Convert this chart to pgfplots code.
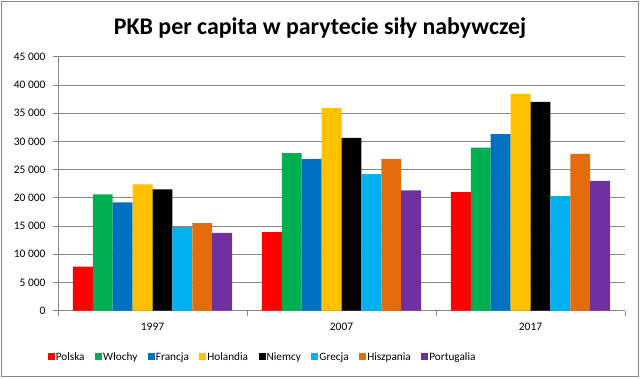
\documentclass[border=0pt]{standalone}
\usepackage{pgfplots}
\pgfplotsset{compat=1.18}
\usepackage{fontspec}
\setmainfont{Carlito}
\definecolor{cPolska}{HTML}{FF0000}
\definecolor{cWlochy}{HTML}{00B050}
\definecolor{cFrancja}{HTML}{0070C0}
\definecolor{cHolandia}{HTML}{FFC000}
\definecolor{cNiemcy}{HTML}{000000}
\definecolor{cGrecja}{HTML}{00B0F0}
\definecolor{cHiszpania}{HTML}{E46C0A}
\definecolor{cPortugalia}{HTML}{7030A0}
\definecolor{gridgray}{HTML}{868686}
\begin{document}
\begin{tikzpicture}[x=1bp,y=1bp]
\useasboundingbox (0,0) rectangle (640,378);
\draw[gridgray, line width=1.2bp] (1.5,1.5) rectangle (638.5,376.5);
\node[font=\fontsize{24}{28}\selectfont\bfseries, anchor=base] at (320,343.7) {PKB per capita w parytecie siły nabywczej};
\begin{axis}[
  at={(58bp,67.3bp)}, anchor=south west,
  scale only axis, width=567bp, height=254bp,
  xmin=-0.5, xmax=2.5, ymin=0, ymax=45000,
  ybar=0pt, bar width=0.1053,
  axis lines=left, axis line style={-, gridgray, line width=0.8bp},
  xtick={0,1,2}, xticklabels={1997,2007,2017},
  major x tick style={draw=none},
  minor xtick={-0.5,0.5,1.5,2.5},
  minor x tick style={gridgray, line width=0.8bp},
  minor tick length=5bp,
  ytick={0,5000,...,45000},
  major y tick style={gridgray, line width=0.8bp},
  major tick length=5bp,
  tick align=outside,
  ymajorgrids, grid style={gridgray, line width=0.8bp},
  scaled y ticks=false,
  /pgf/number format/.cd, 1000 sep={\ }, assume math mode=true, /pgfplots/.cd,
  tick label style={font=\fontsize{11.5}{13}\selectfont},
  yticklabel style={xshift=-4bp},
  xticklabel style={yshift=-4bp},
  legend columns=8,
  legend style={at={(0.36,-0.182)}, anchor=center, draw=none,
    font=\fontsize{11.3}{13}\selectfont,
    /tikz/every even column/.append style={column sep=9.5bp},
    nodes={inner sep=1bp}},
  legend image code/.code={\fill[#1] (0bp,-3.5bp) rectangle (7bp,3.5bp);},
]
\addplot[fill=cPolska, draw=none] coordinates {(0,7800) (1,13900) (2,21000)};
\addplot[fill=cWlochy, draw=none] coordinates {(0,20600) (1,27900) (2,28900)};
\addplot[fill=cFrancja, draw=none] coordinates {(0,19200) (1,26900) (2,31300)};
\addplot[fill=cHolandia, draw=none] coordinates {(0,22400) (1,35900) (2,38400)};
\addplot[fill=cNiemcy, draw=none] coordinates {(0,21500) (1,30600) (2,37000)};
\addplot[fill=cGrecja, draw=none] coordinates {(0,14800) (1,24200) (2,20300)};
\addplot[fill=cHiszpania, draw=none] coordinates {(0,15500) (1,26900) (2,27800)};
\addplot[fill=cPortugalia, draw=none] coordinates {(0,13800) (1,21300) (2,23000)};
\legend{Polska, Włochy, Francja, Holandia, Niemcy, Grecja, Hiszpania, Portugalia}
\end{axis}
\end{tikzpicture}
\end{document}
